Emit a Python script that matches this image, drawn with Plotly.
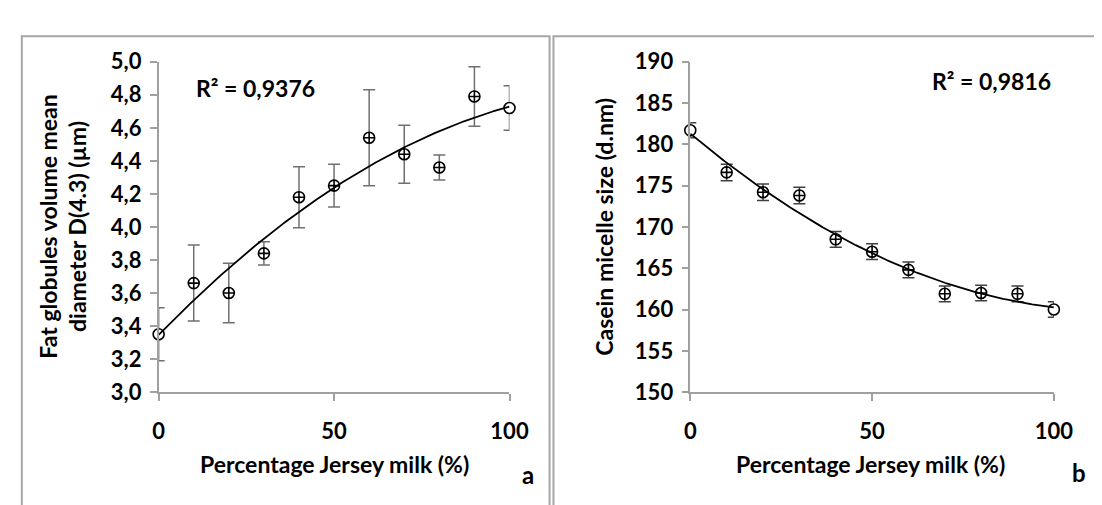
import numpy as np
import plotly.graph_objects as go

W, H = 1102, 505

# ---- data ----
jersey_pct = [0, 10, 20, 30, 40, 50, 60, 70, 80, 90, 100]
fat_d43 = [3.35, 3.66, 3.60, 3.84, 4.18, 4.25, 4.54, 4.44, 4.36, 4.79, 4.72]
fat_err = [0.16, 0.23, 0.18, 0.07, 0.185, 0.13, 0.29, 0.175, 0.076, 0.18, 0.135]
casein_size = [181.7, 176.6, 174.2, 173.8, 168.5, 167.0, 164.8, 161.9, 162.0, 161.9, 160.0]
casein_err = [0.9, 1.0, 1.0, 1.0, 0.95, 0.95, 0.95, 0.95, 0.95, 0.95, 0.95]
left_yticks = [3.0, 3.2, 3.4, 3.6, 3.8, 4.0, 4.2, 4.4, 4.6, 4.8, 5.0]
right_yticks = [150, 155, 160, 165, 170, 175, 180, 185, 190]
xticks = [0, 50, 100]
r2_left = "R² = 0,9376"
r2_right = "R² = 0,9816"

FONT = "Lato"
AX = "#a0a0a0"

def px(x):
    return x / W

def py(y):
    return 1 - y / H

# trendlines: 2nd order polynomial fits (as Excel trendline)
xfit = np.linspace(0, 100, 201)
cl = np.polyfit(jersey_pct, fat_d43, 2)
cr = np.polyfit(jersey_pct, casein_size, 2)
yfit_l = np.polyval(cl, xfit)
yfit_r = np.polyval(cr, xfit)

symbols = ["circle"] + ["circle-cross"] * (len(jersey_pct) - 2) + ["circle"]

fig = go.Figure()

def add_panel(xa, ya, yvals, errs, yfit, ecolor):
    fig.add_trace(go.Scatter(
        x=jersey_pct, y=yvals, mode="markers", xaxis=xa, yaxis=ya,
        marker=dict(symbol=symbols, size=11, color="white",
                    line=dict(color="black", width=1.6)),
        error_y=dict(type="data", array=errs, visible=True, color=ecolor,
                     thickness=1.5, width=6),
        cliponaxis=False, showlegend=False, hoverinfo="skip"))
    fig.add_trace(go.Scatter(
        x=xfit, y=yfit, mode="lines", xaxis=xa, yaxis=ya,
        line=dict(color="black", width=1.8), cliponaxis=False,
        showlegend=False, hoverinfo="skip"))

add_panel("x", "y", fat_d43, fat_err, yfit_l, "#707070")
add_panel("x2", "y2", casein_size, casein_err, yfit_r, "#404040")

ydom = [py(391), py(42)]
tickfont = dict(family=FONT, size=22, color="black", weight="bold")
common_x = dict(range=[0, 100], tickvals=xticks, showline=True, linecolor=AX, linewidth=1.5,
                ticks="outside", ticklen=7, tickcolor=AX, tickwidth=1.5, showgrid=False,
                zeroline=False, tickfont=tickfont, ticklabelstandoff=12)
common_y = dict(showline=True, linecolor=AX, linewidth=1.5, ticks="outside", ticklen=7,
                tickcolor=AX, tickwidth=1.5, showgrid=False, zeroline=False, tickfont=tickfont,
                ticklabelstandoff=4)

fig.update_layout(
    width=W, height=H, margin=dict(l=0, r=0, t=0, b=0),
    paper_bgcolor="white", plot_bgcolor="white", separators=",.",
    xaxis=dict(domain=[px(148), px(507)], anchor="y", **common_x),
    yaxis=dict(domain=ydom, anchor="x", range=[3.0, 5.0], tickvals=left_yticks,
               tickformat=".1f", **common_y),
    xaxis2=dict(domain=[px(692), px(1064)], anchor="y2", **common_x),
    yaxis2=dict(domain=ydom, anchor="x2", range=[150, 190], tickvals=right_yticks, **common_y),
)

# panel borders
bc = "#a6a6a6"
fig.add_shape(type="rect", xref="paper", yref="paper", x0=px(8), x1=px(548), y0=py(520), y1=py(15),
              line=dict(color=bc, width=2))
fig.add_shape(type="rect", xref="paper", yref="paper", x0=px(552), x1=px(1120), y0=py(520), y1=py(15),
              line=dict(color=bc, width=2))

tf = dict(family=FONT, size=23, color="black", weight="bold")
ann = [
    dict(x=px(35), y=py(216), text="Fat globules volume mean", textangle=-90),
    dict(x=px(65), y=py(216), text="diameter D(4.3) (µm)", textangle=-90),
    dict(x=px(604), y=py(216), text="Casein micelle size (d.nm)", textangle=-90),
    dict(x=px(328), y=py(467), text="Percentage Jersey milk (%)"),
    dict(x=px(876), y=py(467), text="Percentage Jersey milk (%)"),
    dict(x=px(247), y=py(70), text=r2_left),
    dict(x=px(1000), y=py(62), text=r2_right),
    dict(x=px(526), y=py(478), text="a", font=dict(family=FONT, size=24, color="black", weight="bold")),
    dict(x=px(1090), y=py(476), text="b", font=dict(family=FONT, size=24, color="black", weight="bold")),
]
for a in ann:
    a.setdefault("font", tf)
    fig.add_annotation(xref="paper", yref="paper", showarrow=False,
                       xanchor="center", yanchor="middle", **a)

fig.write_html("out.html")
